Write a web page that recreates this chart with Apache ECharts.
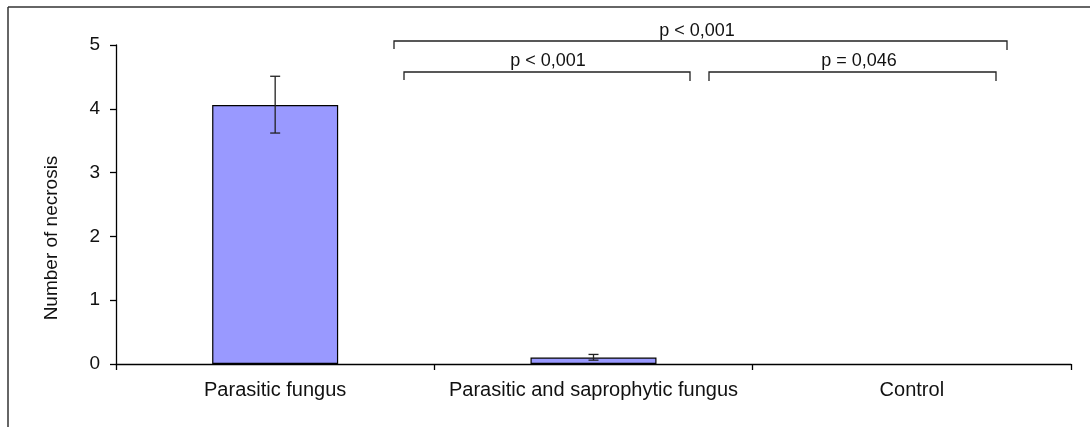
<!DOCTYPE html>
<html>
<head>
<meta charset="utf-8">
<script src="https://cdn.jsdelivr.net/npm/echarts@6/dist/echarts.min.js"></script>
<style>
html,body{margin:0;padding:0;background:#fff;}
#chart{width:1090px;height:427px;}
</style>
</head>
<body>
<div id="chart"></div>
<script>
// ---- data ----
const categories = ['Parasitic fungus', 'Parasitic and saprophytic fungus', 'Control'];
const meanValues = [4.06, 0.10, 0];
const errorLow = [3.62, 0.06, null];
const errorHigh = [4.51, 0.15, null];
const yTicks = [0, 1, 2, 3, 4, 5];
const axisTitle = 'Number of necrosis';
const pLabels = ['p < 0,001', 'p < 0,001', 'p = 0,046'];

const FONT = '"Liberation Sans", Arial, sans-serif';
const chart = echarts.init(document.getElementById('chart'), null, {renderer: 'canvas'});

const errData = categories.map((c, i) => [i, errorLow[i], errorHigh[i]]).filter(d => d[1] != null);

function bracket(x1, x2, y, drop1, drop2) {
  return {
    type: 'polyline', silent: true,
    shape: {points: [[x1, y + drop1], [x1, y], [x2, y], [x2, y + drop2]]},
    style: {stroke: '#222', lineWidth: 1.3, fill: null}
  };
}
function label(x, y, t) {
  return {
    type: 'text', silent: true, x: x, y: y,
    style: {text: t, font: '18px ' + FONT, fill: '#111', align: 'center', verticalAlign: 'middle'}
  };
}

chart.setOption({
  animation: false,
  backgroundColor: '#fff',
  grid: {left: 116, right: 19, top: 45, bottom: 63, containLabel: false},
  xAxis: {
    type: 'category',
    data: categories,
    boundaryGap: true,
    axisLine: {lineStyle: {color: '#000', width: 1.3}},
    axisTick: {show: true, length: 6, lineStyle: {color: '#000', width: 1.3}},
    axisLabel: {color: '#111', fontFamily: FONT, fontSize: 20, margin: 16, interval: 0}
  },
  yAxis: {
    type: 'value',
    min: 0, max: 5, interval: 1,
    axisLine: {show: true, lineStyle: {color: '#000', width: 1.3}},
    axisTick: {show: true, length: 6, lineStyle: {color: '#000', width: 1.3}},
    splitLine: {show: false},
    axisLabel: {color: '#111', fontFamily: FONT, fontSize: 19, margin: 16,
      formatter: v => yTicks.includes(v) ? String(v) : ''}
  },
  series: [
    {
      type: 'bar',
      data: meanValues.map(v => v === 0 ? {value: v, itemStyle: {borderWidth: 0}} : v),
      barWidth: 126,
      itemStyle: {color: '#9999ff', borderColor: '#000', borderWidth: 1.2}
    },
    {
      type: 'custom',
      data: errData,
      z: 5,
      renderItem: function (params, api) {
        const x = api.value(0);
        const lo = api.coord([x, api.value(1)]);
        const hi = api.coord([x, api.value(2)]);
        const cap = 5;
        const st = {stroke: '#222', lineWidth: 1.3};
        return {
          type: 'group',
          children: [
            {type: 'line', shape: {x1: lo[0], y1: lo[1], x2: hi[0], y2: hi[1]}, style: st},
            {type: 'line', shape: {x1: hi[0] - cap, y1: hi[1], x2: hi[0] + cap, y2: hi[1]}, style: st},
            {type: 'line', shape: {x1: lo[0] - cap, y1: lo[1], x2: lo[0] + cap, y2: lo[1]}, style: st}
          ]
        };
      }
    }
  ],
  graphic: [
    {type: 'line', silent: true, shape: {x1: 8, y1: 7, x2: 1090, y2: 7}, style: {stroke: '#333', lineWidth: 1.5}},
    {type: 'line', silent: true, shape: {x1: 8, y1: 7, x2: 8, y2: 427}, style: {stroke: '#333', lineWidth: 1.5}},
    {type: 'text', silent: true, x: 52, y: 238, rotation: Math.PI / 2,
      style: {text: axisTitle, font: '19px ' + FONT, fill: '#111', align: 'center', verticalAlign: 'middle'}},
    bracket(394, 1007, 41, 8, 9),
    label(697, 31, pLabels[0]),
    bracket(404, 690, 72, 8, 9),
    label(548, 61, pLabels[1]),
    bracket(709, 996, 72, 9, 9),
    label(859, 61, pLabels[2])
  ]
});
</script>
</body>
</html>
